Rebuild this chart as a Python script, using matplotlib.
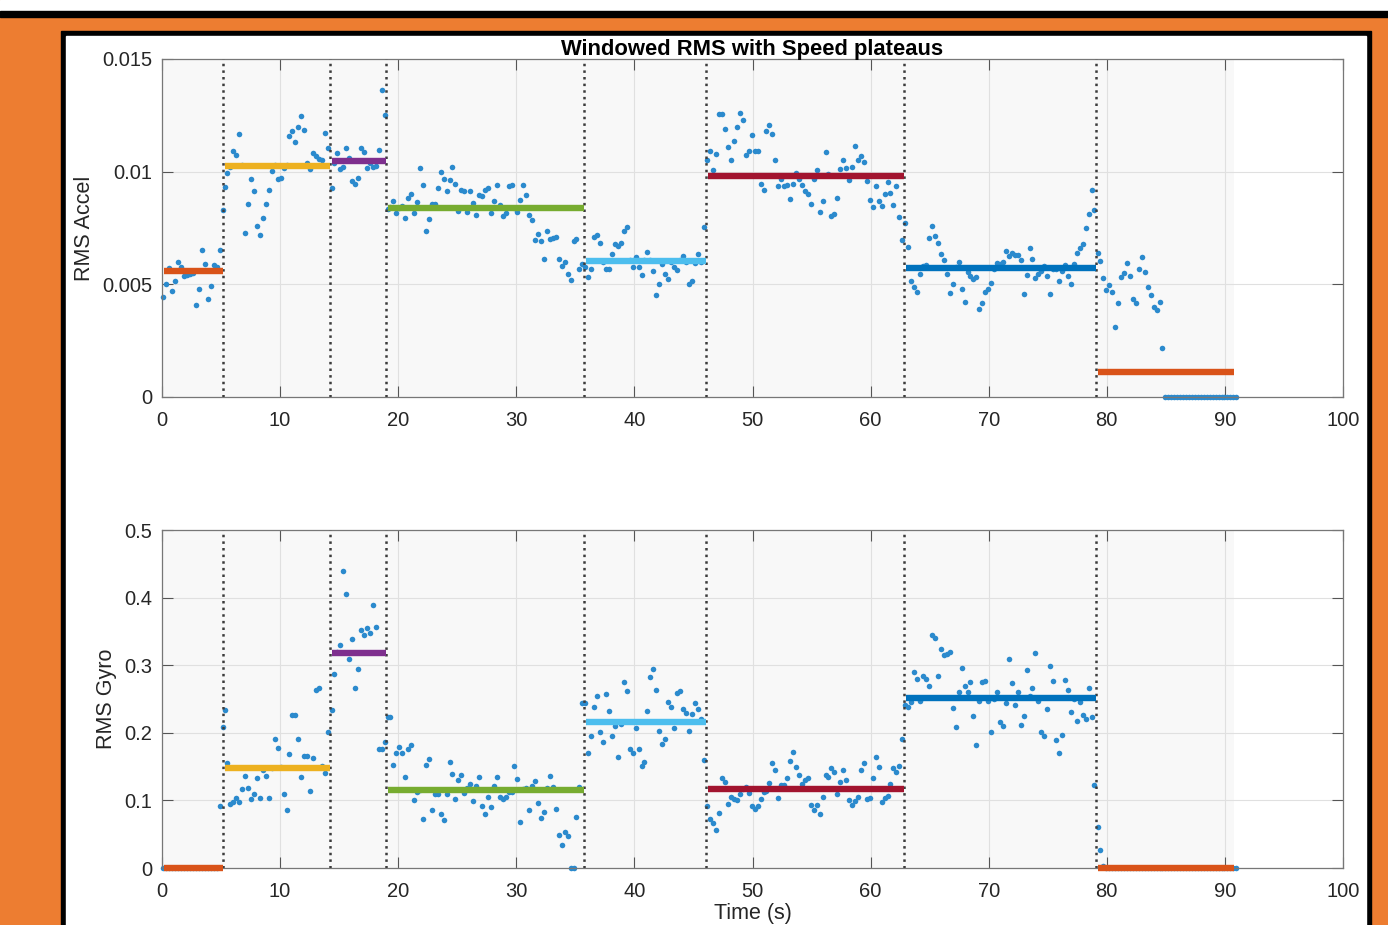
import numpy as np
import matplotlib.pyplot as plt
from matplotlib.patches import Rectangle

plt.rcParams['font.family'] = ['Liberation Sans', 'DejaVu Sans']

# segment boundaries (s) of the speed plateaus
seg_edges = [0, 5.17, 14.23, 18.97, 35.73, 46.06, 62.83, 79.09, 90.8]
seg_colors = ['#D95319', '#EDB120', '#7E2F8E', '#77AC30', '#4DBEEE', '#A2142F', '#0072BD', '#D95319']
accel_levels = [0.00559, 0.01026, 0.01049, 0.00838, 0.00604, 0.00979, 0.00572, 0.00111]
gyro_levels = [0.0, 0.1474, 0.3185, 0.1154, 0.2165, 0.1169, 0.2510, 0.0]
dt = 0.25

# windowed RMS of acceleration, one list per plateau
accel_seg1 = [0.00444, 0.00500, 0.00571, 0.00470, 0.00516, 0.00599, 0.00576, 0.00538, 0.00542, 0.00545,
              0.00552, 0.00407, 0.00481, 0.00652, 0.00592, 0.00436, 0.00494, 0.00587, 0.00575, 0.00652,
              0.00830]
accel_seg2 = [0.00933, 0.00994, 0.01020, 0.01090, 0.01073, 0.01167, 0.01030, 0.00726, 0.00855, 0.00967,
              0.00914, 0.00760, 0.00717, 0.00793, 0.00855, 0.00919, 0.01002, 0.01030, 0.00967, 0.00972,
              0.01018, 0.01031, 0.01160, 0.01179, 0.01133, 0.01198, 0.01246, 0.01184, 0.01040, 0.01010,
              0.01084, 0.01070, 0.01055, 0.01050, 0.01173, 0.01104]
accel_seg3 = [0.00926, 0.01040, 0.01084, 0.01013, 0.01020, 0.01106, 0.01062, 0.00959, 0.00944, 0.00970,
              0.01107, 0.01087, 0.01015, 0.01040, 0.01020, 0.01027, 0.01096, 0.01364, 0.01251]
accel_seg4 = [0.00835, 0.00842, 0.00868, 0.00817, 0.00840, 0.00848, 0.00796, 0.00885, 0.00900, 0.00815,
              0.00867, 0.01018, 0.00941, 0.00738, 0.00789, 0.00857, 0.00858, 0.00929, 0.01000, 0.00968,
              0.00916, 0.00963, 0.01022, 0.00944, 0.00824, 0.00919, 0.00913, 0.00821, 0.00916, 0.00862,
              0.00806, 0.00895, 0.00893, 0.00920, 0.00926, 0.00817, 0.00870, 0.00940, 0.00854, 0.00803,
              0.00815, 0.00935, 0.00941, 0.00837, 0.00820, 0.00874, 0.00941, 0.00898, 0.00806, 0.00784,
              0.00698, 0.00722, 0.00694, 0.00614, 0.00735, 0.00700, 0.00705, 0.00710, 0.00611, 0.00583,
              0.00600, 0.00544, 0.00521, 0.00691, 0.00701, 0.00569, 0.00589]
accel_seg5 = [0.00575, 0.00534, 0.00567, 0.00710, 0.00721, 0.00683, 0.00600, 0.00567, 0.00567, 0.00636,
              0.00679, 0.00671, 0.00684, 0.00737, 0.00756, 0.00610, 0.00578, 0.00623, 0.00576, 0.00540,
              0.00610, 0.00645, 0.00610, 0.00559, 0.00451, 0.00501, 0.00590, 0.00544, 0.00524, 0.00600,
              0.00576, 0.00563, 0.00610, 0.00627, 0.00600, 0.00503, 0.00513, 0.00596, 0.00633, 0.00600,
              0.00756]
accel_seg6 = [0.01052, 0.01092, 0.01007, 0.01078, 0.01256, 0.01256, 0.01189, 0.01108, 0.01050, 0.01136,
              0.01200, 0.01262, 0.01231, 0.01075, 0.01092, 0.01164, 0.01092, 0.01090, 0.00945, 0.00920,
              0.01181, 0.01206, 0.01166, 0.01050, 0.00935, 0.00966, 0.00937, 0.00940, 0.00877, 0.00945,
              0.00996, 0.00969, 0.00940, 0.00916, 0.00902, 0.00855, 0.00969, 0.01009, 0.00822, 0.00870,
              0.01087, 0.00988, 0.00805, 0.00813, 0.00882, 0.01012, 0.01053, 0.01018, 0.00962, 0.01020,
              0.01114, 0.01052, 0.01070, 0.01044, 0.00960, 0.00876, 0.00843, 0.00937, 0.00868, 0.00846,
              0.00900, 0.00953, 0.00907, 0.00854, 0.00936, 0.00800, 0.00697]
accel_seg7 = [0.00774, 0.00667, 0.00516, 0.00487, 0.00466, 0.00546, 0.00581, 0.00585, 0.00704, 0.00760,
              0.00716, 0.00685, 0.00635, 0.00608, 0.00546, 0.00462, 0.00503, 0.00578, 0.00600, 0.00479,
              0.00422, 0.00556, 0.00537, 0.00525, 0.00533, 0.00392, 0.00416, 0.00466, 0.00478, 0.00507,
              0.00570, 0.00593, 0.00590, 0.00597, 0.00648, 0.00626, 0.00637, 0.00629, 0.00630, 0.00607,
              0.00459, 0.00541, 0.00663, 0.00611, 0.00526, 0.00544, 0.00561, 0.00580, 0.00537, 0.00459,
              0.00570, 0.00566, 0.00516, 0.00561, 0.00585, 0.00539, 0.00503, 0.00589, 0.00640, 0.00660,
              0.00678, 0.00750, 0.00811, 0.00917, 0.00829]
accel_seg8 = [0.00639, 0.00605, 0.00528, 0.00476, 0.00496, 0.00465, 0.00312, 0.00417, 0.00533, 0.00549,
              0.00593, 0.00537, 0.00436, 0.00416, 0.00568, 0.00620, 0.00556, 0.00488, 0.00454, 0.00401,
              0.00386, 0.00420, 0.00219,
              0, 0, 0, 0, 0, 0, 0, 0, 0, 0, 0, 0, 0, 0, 0, 0, 0, 0, 0, 0, 0, 0, 0, 0, 0]

# windowed RMS of angular rate
gyro_seg1 = [0, 0, 0, 0, 0, 0, 0, 0, 0, 0, 0, 0, 0, 0, 0, 0, 0, 0, 0, 0.0920, 0.2086]
gyro_seg2 = [0.2337, 0.1560, 0.0951, 0.0971, 0.1036, 0.0971, 0.1164, 0.1356, 0.1189, 0.1021,
             0.1100, 0.1336, 0.1040, 0.1450, 0.1366, 0.1040, 0.1480, 0.1913, 0.1770, 0.1500,
             0.1100, 0.0853, 0.1682, 0.2259, 0.2259, 0.1913, 0.1351, 0.1657, 0.1657, 0.1144,
             0.1632, 0.2633, 0.2663, 0.1509, 0.1400, 0.2007]
gyro_seg3 = [0.2337, 0.2875, 0.3200, 0.3300, 0.4389, 0.4058, 0.3087, 0.3388, 0.2668, 0.2944,
             0.3520, 0.3447, 0.3545, 0.3476, 0.3886, 0.3565, 0.1756, 0.1760, 0.1860]
gyro_seg4 = [0.2239, 0.2239, 0.1519, 0.1696, 0.1785, 0.1696, 0.1346, 0.1765, 0.1820, 0.1006,
             0.1130, 0.1150, 0.0720, 0.1519, 0.1617, 0.0858, 0.1090, 0.1095, 0.0804, 0.0705,
             0.1090, 0.1568, 0.1395, 0.1021, 0.1307, 0.1371, 0.1110, 0.1183, 0.1247, 0.0996,
             0.1213, 0.1346, 0.0922, 0.0804, 0.1045, 0.0897, 0.1210, 0.1346, 0.1047, 0.1026,
             0.1045, 0.1120, 0.1130, 0.1504, 0.1317, 0.0676, 0.1169, 0.1178, 0.0858, 0.1213,
             0.1292, 0.0962, 0.0744, 0.0824, 0.1183, 0.1366, 0.1200, 0.0868, 0.0493, 0.0336,
             0.0533, 0.0469, 0.0004, 0.0004, 0.0750, 0.1200, 0.2436]
gyro_seg5 = [0.2436, 0.1706, 0.1948, 0.2377, 0.2540, 0.2016, 0.1860, 0.2574, 0.2318, 0.1957,
             0.2105, 0.1642, 0.2130, 0.2747, 0.2618, 0.1765, 0.1701, 0.2071, 0.1756, 0.1513,
             0.1572, 0.2318, 0.2821, 0.2948, 0.2638, 0.2022, 0.1830, 0.1908, 0.2451, 0.2377,
             0.2071, 0.2594, 0.2618, 0.2357, 0.2288, 0.2032, 0.2280, 0.2446, 0.2352, 0.2200,
             0.1593]
gyro_seg6 = [0.0917, 0.0730, 0.0670, 0.0562, 0.0809, 0.1336, 0.1268, 0.0951, 0.1050, 0.1026,
             0.1010, 0.1099, 0.1169, 0.1198, 0.1110, 0.0917, 0.0877, 0.0920, 0.1026, 0.1124,
             0.1144, 0.1253, 0.1558, 0.1454, 0.1035, 0.1232, 0.1232, 0.1327, 0.1583, 0.1720,
             0.1499, 0.1371, 0.1243, 0.1302, 0.1336, 0.0927, 0.0853, 0.0937, 0.0804, 0.1050,
             0.1380, 0.1351, 0.1484, 0.1415, 0.1090, 0.1277, 0.1450, 0.1297, 0.1010, 0.0937,
             0.0991, 0.1055, 0.1450, 0.1553, 0.1026, 0.1030, 0.1336, 0.1647, 0.1499, 0.0976,
             0.1035, 0.1065, 0.1238, 0.1479, 0.1425, 0.1509, 0.1913]
gyro_seg7 = [0.2416, 0.2387, 0.2450, 0.2895, 0.2796, 0.2475, 0.2840, 0.2796, 0.2692, 0.3452,
             0.3397, 0.2840, 0.3245, 0.3146, 0.3166, 0.3190, 0.2367, 0.2091, 0.2604, 0.2954,
             0.2687, 0.2604, 0.2751, 0.2249, 0.1824, 0.2475, 0.2746, 0.2761, 0.2475, 0.2012,
             0.2500, 0.2604, 0.2160, 0.2101, 0.2436, 0.3087, 0.2732, 0.2416, 0.2608, 0.2111,
             0.2253, 0.2929, 0.2544, 0.2667, 0.3185, 0.2475, 0.2016, 0.1953, 0.2357, 0.2993,
             0.2761, 0.1898, 0.1696, 0.1967, 0.2776, 0.2633, 0.2312, 0.2500, 0.2170, 0.2461,
             0.2268, 0.2200, 0.2663, 0.2229, 0.1228]
gyro_seg8 = [0.0611, 0.0266, 0.0034,
             0, 0, 0, 0, 0, 0, 0, 0, 0, 0, 0, 0, 0, 0, 0, 0, 0, 0, 0, 0, 0, 0, 0, 0, 0,
             0, 0, 0, 0, 0, 0, 0, 0, 0, 0, 0, 0, 0, 0, 0, 0, 0, 0, 0, 0]

accel_segs = [accel_seg1, accel_seg2, accel_seg3, accel_seg4, accel_seg5, accel_seg6, accel_seg7, accel_seg8]
gyro_segs = [gyro_seg1, gyro_seg2, gyro_seg3, gyro_seg4, gyro_seg5, gyro_seg6, gyro_seg7, gyro_seg8]

x_ticks = [0, 10, 20, 30, 40, 50, 60, 70, 80, 90, 100]
accel_ticks = [0, 0.005, 0.01, 0.015]
accel_ticklabels = ['0', '0.005', '0.01', '0.015']
gyro_ticks = [0, 0.1, 0.2, 0.3, 0.4, 0.5]
gyro_ticklabels = ['0', '0.1', '0.2', '0.3', '0.4', '0.5']

W, H = 1388, 925


def px_rect(fig, x0, y0, x1, y1, color):
    fig.patches.append(Rectangle((x0 / W, 1 - y1 / H), (x1 - x0) / W, (y1 - y0) / H,
                                 transform=fig.transFigure, color=color, zorder=-10))


def seg_times(segs):
    out = []
    for i, vals in enumerate(segs):
        out.append(seg_edges[i] + 0.125 + dt * np.arange(len(vals)))
    return out


def draw_panel(ax, segs, levels, ticks, ticklabels, ylim):
    times = seg_times(segs)
    ax.axvspan(0, seg_edges[-1], color='#f8f8f8', zorder=0.1, lw=0)
    ax.scatter(np.concatenate(times), np.concatenate([np.asarray(s, float) for s in segs]),
               s=16, color='#2b8acd', lw=0, zorder=2, clip_on=False)
    for e in seg_edges[1:-1]:
        ax.axvline(e, color='#3c3c3c', ls=':', lw=1.8, zorder=3)
    for i, lvl in enumerate(levels):
        ax.plot([seg_edges[i] + 0.15, seg_edges[i + 1]], [lvl, lvl], color=seg_colors[i],
                lw=4.6, solid_capstyle='butt', zorder=4, clip_on=False)
    ax.set_xlim(0, 100)
    ax.set_ylim(*ylim)
    ax.set_xticks(x_ticks)
    ax.set_xticklabels([str(v) for v in x_ticks])
    ax.set_yticks(ticks)
    ax.set_yticklabels(ticklabels)
    ax.set_axisbelow(True)
    ax.grid(True, color='#e0e0e0', lw=0.8)
    ax.tick_params(direction='in', top=True, right=True, length=8, width=0.8,
                   color='#555555', labelcolor='#262626', labelsize=14.5)
    ax.tick_params(axis='x', pad=10)
    ax.tick_params(axis='y', pad=7)
    for sp in ax.spines.values():
        sp.set_color('#777777')
        sp.set_linewidth(0.9)


fig = plt.figure(figsize=(W / 100, H / 100), dpi=100)
fig.patch.set_facecolor('#ED7D31')
px_rect(fig, 0, 0, W, 11, 'white')
px_rect(fig, 0, 11, W, 17, 'black')
px_rect(fig, 61, 31, 1371, H, 'black')
px_rect(fig, 66, 36, 1366, H, 'white')

ax1 = fig.add_axes([162 / W, 1 - 397 / H, 1181 / W, 338 / H])
ax2 = fig.add_axes([162 / W, 1 - 868 / H, 1181 / W, 338 / H])

draw_panel(ax1, accel_segs, accel_levels, accel_ticks, accel_ticklabels, (0, 0.015))
draw_panel(ax2, gyro_segs, gyro_levels, gyro_ticks, gyro_ticklabels, (0, 0.5))

ax1.set_title('Windowed RMS with Speed plateaus', fontsize=15.8, fontweight='bold', pad=3)
ax1.set_ylabel('RMS Accel', fontsize=15.5, color='#262626')
ax1.yaxis.set_label_coords(-0.0567, 0.5)
ax2.set_ylabel('RMS Gyro', fontsize=15.5, color='#262626')
ax2.yaxis.set_label_coords(-0.0381, 0.5)
ax2.set_xlabel('Time (s)', fontsize=15.5, color='#262626')
ax2.xaxis.set_label_coords(0.5, -0.105)

fig.savefig('out.png', dpi=100, facecolor=fig.get_facecolor())
